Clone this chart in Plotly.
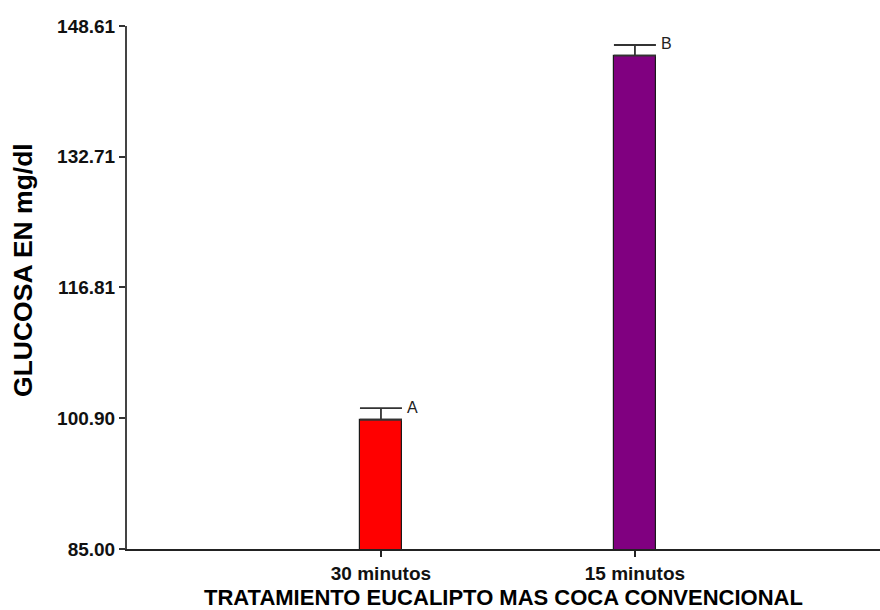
import plotly.graph_objects as go

# Glucose means (mg/dl) with error bars and significance letters
categories = ["30 minutos", "15 minutos"]
means = [100.72, 145.00]
errors = [1.42, 1.30]
letters = ["A", "B"]
colors = ["#FF0000", "#800080"]
y_ticks = [85.00, 100.90, 116.81, 132.71, 148.61]

FONT = "Arial, Liberation Sans, sans-serif"

fig = go.Figure()
fig.add_trace(go.Bar(
    x=categories,
    y=means,
    width=0.165,
    marker=dict(color=colors, line=dict(color="#1a1a1a", width=1.2)),
    error_y=dict(type="data", array=errors, symmetric=False, arrayminus=[0, 0],
                 color="#333333", thickness=1.8, width=21),
    showlegend=False,
))

for cat, m, e, lab in zip(categories, means, errors, letters):
    fig.add_annotation(
        x=cat, y=m + e, text=lab, showarrow=False,
        xanchor="left", yanchor="middle", xshift=24, yshift=1,
        font=dict(family=FONT, size=16, color="#222222"),
    )

# Axis titles
fig.add_annotation(
    xref="paper", yref="paper", x=0, y=0.5335, xshift=-104,
    text="<b>GLUCOSA EN mg/dl</b>", textangle=-90, showarrow=False,
    xanchor="center", yanchor="middle",
    font=dict(family=FONT, size=26.5, color="#000000"),
)
fig.add_annotation(
    xref="paper", yref="paper", x=0.5, y=0, yshift=-48,
    text="<b>TRATAMIENTO EUCALIPTO MAS COCA CONVENCIONAL</b>", showarrow=False,
    xanchor="center", yanchor="middle",
    font=dict(family=FONT, size=22, color="#000000"),
)

fig.update_layout(
    width=880, height=610,
    margin=dict(l=127, r=0, t=26, b=61),
    paper_bgcolor="white", plot_bgcolor="white",
    bargap=0,
    xaxis=dict(
        type="category", range=[-1, 1.965],
        showline=True, linecolor="#222222", linewidth=1.5,
        ticks="outside", ticklen=6, tickwidth=1.5, tickcolor="#222222",
        showgrid=False, zeroline=False,
        tickfont=dict(family=FONT, size=19, color="#111111"),
        tickprefix="<b>", ticksuffix="</b>",
    ),
    yaxis=dict(
        range=[85, 148.61],
        tickvals=y_ticks, ticktext=[f"<b>{v:.2f}</b>" for v in y_ticks],
        showline=True, linecolor="#444444", linewidth=2,
        ticks="outside", ticklen=6, tickwidth=1.5, tickcolor="#333333",
        showgrid=False, zeroline=False,
        tickfont=dict(family=FONT, size=19, color="#111111"),
    ),
)

fig.write_html("out.html")
